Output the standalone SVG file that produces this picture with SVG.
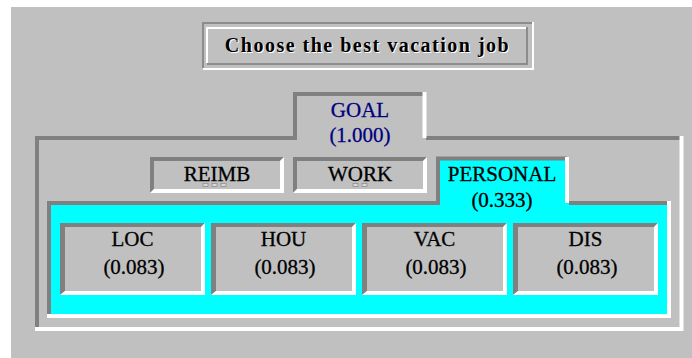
<svg xmlns="http://www.w3.org/2000/svg" width="692" height="358" viewBox="0 0 692 358">
<style>
.lbl{font-family:"Liberation Serif","Times New Roman",serif;font-size:21px;text-anchor:middle;fill:#000;stroke:#000;stroke-width:0.3}
.goal{fill:#000080;stroke:#000080}
.title{font-family:"Liberation Serif","Times New Roman",serif;font-weight:bold;font-size:20px;letter-spacing:1.5px;text-anchor:middle}
.dk{fill:#808080}
.wh{fill:#ffffff}
.ldk{fill:none;stroke:#808080;stroke-width:4}
.lwh{fill:none;stroke:#ffffff;stroke-width:4}
.dot{fill:#d8d8d8;stroke:#909090;stroke-width:0.8}
</style>
<rect x="0" y="0" width="692" height="358" fill="#ffffff"/>
<rect x="11" y="7" width="681" height="351" fill="#c0c0c0"/>

<g id="title">
<path d="M203,68 V23 H532" fill="none" stroke="#8c8c8c" stroke-width="2"/>
<path d="M533,22 V69 H203" fill="none" stroke="#ffffff" stroke-width="2"/>
<path d="M207,63 V28 H526" fill="none" stroke="#ffffff" stroke-width="2"/>
<path d="M527,27 V64 H207" fill="none" stroke="#8c8c8c" stroke-width="2"/>
<text class="title" x="368.5" y="53" fill="#ffffff">Choose the best vacation job</text>
<text class="title" x="367.5" y="52" fill="#000000">Choose the best vacation job</text>
</g>

<g id="goal">
<path class="ldk" d="M37,329 V138 H295 V94 H424"/>
<path class="ldk" d="M426,138 H682"/>
<path class="lwh" d="M424.5,92 V138"/>
<path class="lwh" d="M681.5,136 V329 H35"/>
<text class="lbl goal" x="360" y="117">GOAL</text>
<text class="lbl goal" x="360" y="142">(1.000)</text>
</g>

<g id="reimb">
<rect x="150" y="157" width="134" height="36" fill="#c0c0c0"/>
<polygon class="dk" points="150,157 284,157 280,161 154,161 154,189 150,193"/>
<polygon class="wh" points="284,157 284,193 150,193 154,189 280,189 280,161"/>
<text class="lbl" x="217" y="181">REIMB</text>
<rect class="dot" x="203" y="183.5" width="5" height="3"/>
<rect class="dot" x="212" y="183.5" width="5" height="3"/>
<rect class="dot" x="221" y="183.5" width="5" height="3"/>
</g>

<g id="work">
<rect x="293" y="157" width="134" height="36" fill="#c0c0c0"/>
<polygon class="dk" points="293,157 427,157 423,161 297,161 297,189 293,193"/>
<polygon class="wh" points="427,157 427,193 293,193 297,189 423,189 423,161"/>
<text class="lbl" x="360" y="181">WORK</text>
<rect class="dot" x="353" y="183.5" width="5" height="3"/>
<rect class="dot" x="362" y="183.5" width="5" height="3"/>
</g>

<g id="personal">
<path d="M49,316 V203 H438 V158.5 H567 V203 H669 V316 Z" fill="#00ffff"/>
<path class="ldk" d="M49,316 V203 H438 V158.5 H567"/>
<path class="ldk" d="M569,203 H669"/>
<path class="lwh" d="M567,157 V203"/>
<path class="lwh" d="M669,201 V316 H47"/>
<text class="lbl" x="502" y="181">PERSONAL</text>
<text class="lbl" x="502" y="207">(0.333)</text>
</g>

<g id="loc">
<rect x="60" y="223" width="145" height="72" fill="#c0c0c0"/>
<polygon class="dk" points="60,223 205,223 201,227 65,227 65,291 60,295"/>
<polygon class="wh" points="205,223 205,295 60,295 65,291 201,291 201,227"/>
<text class="lbl" x="132.5" y="246">LOC</text>
<text class="lbl" x="134" y="274">(0.083)</text>
</g>

<g id="hou">
<rect x="211" y="223" width="145" height="72" fill="#c0c0c0"/>
<polygon class="dk" points="211,223 356,223 352,227 216,227 216,291 211,295"/>
<polygon class="wh" points="356,223 356,295 211,295 216,291 352,291 352,227"/>
<text class="lbl" x="283.5" y="246">HOU</text>
<text class="lbl" x="285" y="274">(0.083)</text>
</g>

<g id="vac">
<rect x="362" y="223" width="145" height="72" fill="#c0c0c0"/>
<polygon class="dk" points="362,223 507,223 503,227 367,227 367,291 362,295"/>
<polygon class="wh" points="507,223 507,295 362,295 367,291 503,291 503,227"/>
<text class="lbl" x="434.5" y="246">VAC</text>
<text class="lbl" x="436" y="274">(0.083)</text>
</g>

<g id="dis">
<rect x="513" y="223" width="145" height="72" fill="#c0c0c0"/>
<polygon class="dk" points="513,223 658,223 654,227 518,227 518,291 513,295"/>
<polygon class="wh" points="658,223 658,295 513,295 518,291 654,291 654,227"/>
<text class="lbl" x="585.5" y="246">DIS</text>
<text class="lbl" x="587" y="274">(0.083)</text>
</g>

<g id="connectors"></g>
</svg>
